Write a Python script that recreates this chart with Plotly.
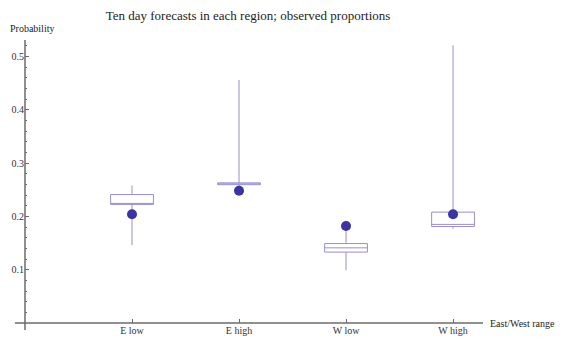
import plotly.graph_objects as go

# data
categories = ["E low", "E high", "W low", "W high"]
positions = [1, 2, 3, 4]
whisker_low = [0.146, 0.255, 0.099, 0.177]
quart1 = [0.2225, 0.2595, 0.133, 0.181]
medians = [0.224, 0.261, 0.141, 0.185]
quart3 = [0.241, 0.263, 0.149, 0.208]
whisker_high = [0.258, 0.456, 0.178, 0.521]
observed = [0.204, 0.248, 0.182, 0.204]

y_ticks = [0.1, 0.2, 0.3, 0.4, 0.5]

serif = "Liberation Serif, Times New Roman, serif"
box_col = "#9790cc"
dot_col = "#3a33a0"
axis_col = "#6b6b6b"

# page body has an 8px margin, so the figure is sized to fill the rest
W, H = 562, 333

fig = go.Figure()

fig.add_trace(go.Box(
    x=positions, q1=quart1, median=medians, q3=quart3,
    lowerfence=whisker_low, upperfence=whisker_high,
    width=0.4, whiskerwidth=0,
    line=dict(color=box_col, width=1),
    fillcolor="white", showlegend=False, boxpoints=False
))

fig.add_trace(go.Scatter(
    x=positions, y=observed, mode="markers",
    marker=dict(size=10, color=dot_col),
    showlegend=False, cliponaxis=False
))

# x axis line (extends a little left of the y axis) and y axis tail
fig.add_shape(type="line", xref="paper", yref="paper",
              x0=-0.022, x1=1, y0=0, y1=0,
              line=dict(color=axis_col, width=1.5))
fig.add_shape(type="line", xref="paper", yref="paper",
              x0=0, x1=0, y0=-0.025, y1=1,
              line=dict(color=axis_col, width=1.5))

fig.update_layout(
    width=W, height=H,
    margin=dict(l=17, r=87, t=32, b=18),
    paper_bgcolor="white", plot_bgcolor="white",
    font=dict(family=serif, size=10, color="#333"),
    title=dict(text="Ten day forecasts in each region; observed proportions",
               x=240 / W, xanchor="center", y=1 - 7 / H, yanchor="middle",
               font=dict(family=serif, size=13, color="#222")),
    xaxis=dict(range=[0, 4.28], tickvals=positions, ticktext=categories,
               ticks="inside", ticklen=4, tickcolor=axis_col,
               showgrid=False, zeroline=False, showline=False, automargin=False,
               tickfont=dict(family=serif, size=10, color="#333")),
    yaxis=dict(range=[0, 0.531], tickvals=y_ticks,
               ticks="inside", ticklen=4, tickcolor=axis_col,
               minor=dict(ticks="inside", ticklen=2, dtick=0.02, tick0=0,
                          tickcolor=axis_col, showgrid=False),
               showgrid=False, zeroline=False, showline=False, automargin=False,
               tickfont=dict(family=serif, size=10, color="#333")),
    annotations=[
        dict(text="Probability", xref="paper", yref="paper",
             x=-0.037, y=1.039, xanchor="left", yanchor="middle",
             showarrow=False, font=dict(family=serif, size=10, color="#222")),
        dict(text="East/West range", xref="paper", yref="paper",
             x=1, y=0, xanchor="left", yanchor="middle", xshift=5,
             showarrow=False, font=dict(family=serif, size=10, color="#222")),
    ],
)

fig.write_html("out.html")
